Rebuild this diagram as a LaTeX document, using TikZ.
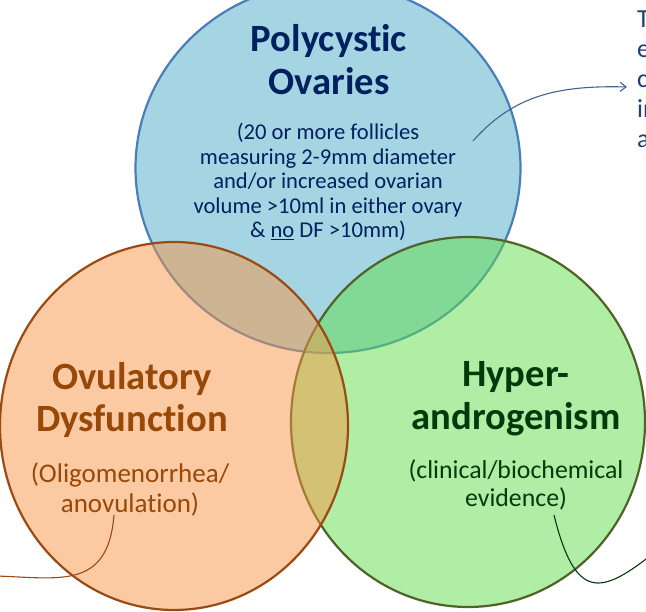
\documentclass[tikz,border=0pt]{standalone}
\usepackage{fontspec}
\setmainfont{Carlito}[Ligatures=NoCommon]
\usepackage{tikz}
\usetikzlibrary{positioning, shapes.geometric, arrows.meta}
\usepackage{xcolor}
\definecolor{pcofill}{HTML}{4BACC6}
\definecolor{pcoline}{HTML}{4A7EBB}
\definecolor{pcotext}{HTML}{002060}
\definecolor{hyafill}{HTML}{61DD4B}
\definecolor{hyaline}{HTML}{4F6228}
\definecolor{hyatext}{HTML}{033A0B}
\definecolor{ovdfill}{HTML}{F79646}
\definecolor{ovdline}{HTML}{9A4A12}
\definecolor{ovdtext}{HTML}{984807}
\definecolor{pcolink}{HTML}{41648C}
\definecolor{sidetext}{HTML}{1F3F73}

\begin{document}
\begin{tikzpicture}[x=1pt, y=-1pt,
    venn/.style={ellipse, draw, line width=2.2pt, fill opacity=0.5, inner sep=0pt},
    heading/.style={font=\fontsize{38.6}{43}\selectfont\bfseries, align=center, inner sep=0pt},
    detail/.style={align=center, inner sep=0pt},
    link/.style={line width=1.1pt}]

    \useasboundingbox (0,0) rectangle (646,612);
    \clip (0,0) rectangle (646,612);

    % Circles
    \node[venn, fill=pcofill, draw=pcoline, minimum width=385pt, minimum height=370pt] (pco) at (328,168) {};
    \node[venn, fill=hyafill, draw=hyaline, minimum width=354pt, minimum height=370pt] (hya) at (468,422) {};
    \node[venn, fill=ovdfill, draw=ovdline, minimum width=348pt, minimum height=368pt] (ovd) at (174,426) {};

    % Polycystic Ovaries (base = last line)
    \node[heading, text=pcotext, anchor=base] (pcotitle) at (329,95) {Polycystic\\Ovaries};
    \node[detail, text=pcotext, anchor=base, font=\fontsize{22.6}{24.5}\selectfont] (pcodetail) at (328,238)
        {(20 or more follicles\\measuring 2-9mm diameter\\and/or increased ovarian\\volume >10ml in either ovary\\\& \underline{no} DF >10mm)};

    % Ovulatory Dysfunction
    \node[heading, text=ovdtext, anchor=base] (ovdtitle) at (132,432) {Ovulatory\\Dysfunction};
    \node[detail, text=ovdtext, anchor=base, font=\fontsize{27}{29.5}\selectfont] (ovddetail) at (130,512)
        {(Oligomenorrhea/\\anovulation)};

    % Hyperandrogenism
    \node[heading, text=hyatext, anchor=base] (hyatitle) at (516,430) {Hyper-\\androgenism};
    \node[detail, text=hyatext, anchor=base, font=\fontsize{25.8}{28.5}\selectfont] (hyadetail) at (516,507)
        {(clinical/biochemical\\evidence)};

    % Side text
    \node[detail, text=sidetext, anchor=base west, align=left, font=\fontsize{26}{30}\selectfont] (side) at (637,148)
        {T\\e\\c\\in\\a};

    % Connectors
    \coordinate (pcofrom) at (473,141);
    \coordinate (pcoto) at (627,87);
    \draw[link, draw=pcolink, -{Straight Barb[length=6pt, width=9pt]}] (pcofrom) .. controls (512,97) and (555,85) .. (pcoto);

    \coordinate (ovdfrom) at (114,515);
    \coordinate (ovdto) at (-4,576);
    \draw[link, draw=ovdline] (ovdfrom) .. controls (108,590) and (60,578) .. (ovdto);

    \coordinate (hyafrom) at (554,515);
    \coordinate (hyato) at (650,556);
    \draw[link, draw=hyatext] (hyafrom) .. controls (575,600) and (600,595) .. (hyato);
\end{tikzpicture}
\end{document}
